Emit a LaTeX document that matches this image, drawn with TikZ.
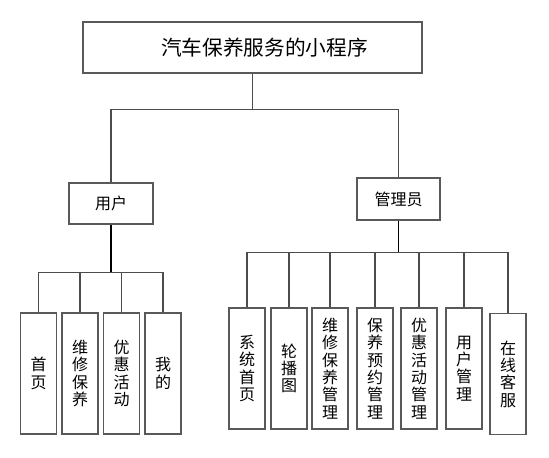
\documentclass[tikz,border=0pt]{standalone}
\usepackage{fontspec}
\newfontfamily\cjk{Noto Sans CJK SC}
\begin{document}
\begin{tikzpicture}[x=0.75pt,y=-0.75pt,
  box/.style={draw=black!65,line width=0.8pt,fill=white,inner sep=0pt,font=\cjk\fontsize{12pt}{13pt}\selectfont,align=center},
  vbox/.style={box,minimum width=36*0.75pt,minimum height=121*0.75pt},
  link/.style={draw=black!70,line width=0.8pt},
  drop/.style={draw=black,line width=1.3pt}]
\useasboundingbox (0,0) rectangle (549,457);
% top
\node[box,minimum width=339*0.75pt,minimum height=51*0.75pt] (top) at (252.5,47.5) {};
\node[font=\cjk\fontsize{15.5pt}{18pt}\selectfont,inner sep=0pt] (title) at (264.5,47.5) {汽车保养服务的小程序};
% level 2
\node[box,minimum width=84*0.75pt,minimum height=41*0.75pt] (user) at (111,203.5) {用户};
\node[box,minimum width=83*0.75pt,minimum height=42*0.75pt] (admin) at (398.5,199) {管理员};
% user children
\node[vbox] (u1) at (38.5,373.5) {首\\页};
\node[vbox] (u2) at (80,373.5) {维\\修\\保\\养};
\node[vbox] (u3) at (121.5,373.5) {优\\惠\\活\\动};
\node[vbox] (u4) at (163,373.5) {我\\的};
% admin children
\node[vbox] (a1) at (247,368.5) {系\\统\\首\\页};
\node[vbox] (a2) at (289,368.5) {轮\\播\\图};
\node[vbox] (a3) at (330,368.5) {维\\修\\保\\养\\管\\理};
\node[vbox] (a4) at (375,368.5) {保\\养\\预\\约\\管\\理};
\node[vbox] (a5) at (419,368.5) {优\\惠\\活\\动\\管\\理};
\node[vbox] (a6) at (464,368.5) {用\\户\\管\\理};
\node[vbox] (a7) at (508,374) {在\\线\\客\\服};
% bus coordinates
\path (top.south) ++(0,36) coordinate (tb);
\path (user.south) ++(0,48) coordinate (ub);
\path (admin.south) ++(0,32) coordinate (ab);
% connectors
\draw[link] (top.south) -- (tb);
\draw[link] (user.north) -- (user.north |- tb) -- (admin.north |- tb) -- (admin.north);
\draw[drop] (user.south) -- (ub);
\draw[link] (u1.north) -- (u1.north |- ub) -- (u4.north |- ub) -- (u4.north);
\draw[link] (u2.north) -- (u2.north |- ub);
\draw[link] (u3.north) -- (u3.north |- ub);
\draw[drop] (admin.south) -- (ab);
\draw[link] (a1.north) -- (a1.north |- ab) -- (a7.north |- ab) -- (a7.north);
\foreach \n in {a2,a3,a4,a5,a6} \draw[link] (\n.north) -- (\n.north |- ab);
\end{tikzpicture}
\end{document}
